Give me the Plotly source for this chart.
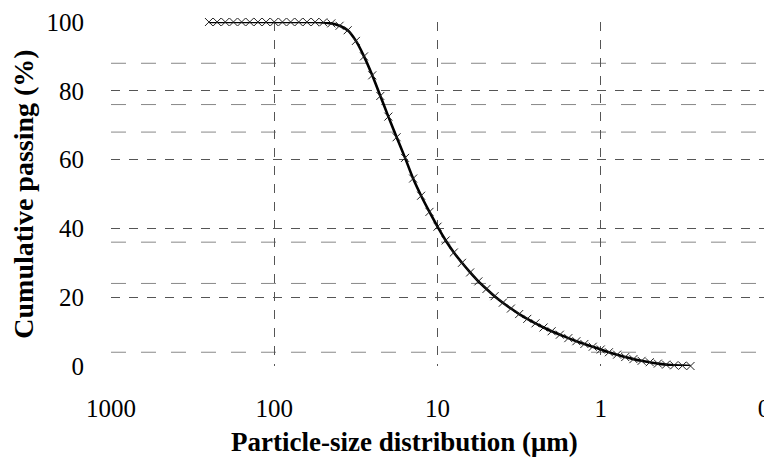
import plotly.graph_objects as go

# Particle size (µm) and cumulative passing (%)
size_um = [251.2, 223.9, 199.5, 177.8, 158.5, 141.3, 125.9, 112.2, 100.0, 89.1,
           79.4, 70.8, 63.1, 56.2, 50.1, 44.7, 39.8, 35.5, 31.6, 28.2,
           25.1, 22.4, 20.0, 17.8, 15.8, 14.1, 12.6, 11.2, 10.0, 8.91,
           7.94, 7.08, 6.31, 5.62, 5.01, 4.47, 3.98, 3.55, 3.16, 2.82,
           2.51, 2.24, 2.00, 1.78, 1.58, 1.41, 1.26, 1.12, 1.00, 0.891,
           0.794, 0.708, 0.631, 0.562, 0.501, 0.447, 0.398, 0.355, 0.316, 0.282]
passing = [100, 100, 100, 100, 100, 100, 100, 100, 100, 100,
           100, 100, 100, 100, 99.9, 99.6, 98.9, 97.6, 94.5, 90.0,
           84.5, 78.5, 72.5, 66.5, 60.5, 54.5, 49.5, 44.8, 40.5, 36.5,
           33.0, 30.0, 27.2, 24.6, 22.4, 20.3, 18.4, 16.7, 15.1, 13.7,
           12.4, 11.2, 10.1, 9.1, 8.1, 7.2, 6.4, 5.6, 4.8, 4.0,
           3.3, 2.6, 2.0, 1.5, 1.1, 0.7, 0.4, 0.2, 0.1, 0.0]

x_tick_vals = [1000, 100, 10, 1, 0.1]
x_tick_text = ["1000", "100", "10", "1", "0"]
y_tick_vals = [0, 20, 40, 60, 80, 100]

# extra (scanned) horizontal grid lines
extra_h_grid = [88, 76, 68, 36, 24, 4]

FONT = "Liberation Serif, Times New Roman, serif"
GRID = "#555555"

fig = go.Figure()
fig.add_trace(go.Scatter(
    x=size_um, y=passing, mode="lines+markers",
    line=dict(color="black", width=2.6, shape="spline"),
    marker=dict(symbol="x-thin", size=8, line=dict(color="#222222", width=1)),
    cliponaxis=False, showlegend=False,
))

for v in extra_h_grid:
    fig.add_shape(type="line", xref="paper", x0=0, x1=1, yref="y", y0=v, y1=v,
                  line=dict(color="#888888", width=1, dash="longdash"), layer="below")

# x-axis title (placed slightly left of centre, as in the reference)
fig.add_annotation(text="<b>Particle-size distribution (μm)</b>",
                   xref="paper", yref="paper", x=0.45, y=-0.221,
                   xanchor="center", yanchor="middle", showarrow=False,
                   font=dict(family=FONT, size=27, color="black"))

# page body has an 8px margin, so the figure is sized to fill the rest of the window
fig.update_layout(
    width=764, height=450,
    margin=dict(l=103, r=8, t=14, b=92, autoexpand=False),
    paper_bgcolor="white", plot_bgcolor="white",
    font=dict(family=FONT, color="black", size=25),
    xaxis=dict(
        type="log", range=[3, -1], autorange=False,
        tickvals=x_tick_vals, ticktext=x_tick_text,
        showgrid=True, gridcolor=GRID, griddash="dash", gridwidth=1,
        showline=False, zeroline=False, ticks="",
        tickfont=dict(family=FONT, size=25), ticklabelstandoff=25,
        automargin=False,
    ),
    yaxis=dict(
        range=[0, 100], autorange=False, tickvals=y_tick_vals,
        showgrid=True, gridcolor=GRID, griddash="dash", gridwidth=1,
        showline=False, zeroline=False, ticks="",
        tickfont=dict(family=FONT, size=25), ticklabelstandoff=26,
        automargin=False,
        title=dict(text="<b>Cumulative passing (%)</b>",
                   font=dict(family=FONT, size=28), standoff=4),
    ),
)

fig.write_html("out.html")
